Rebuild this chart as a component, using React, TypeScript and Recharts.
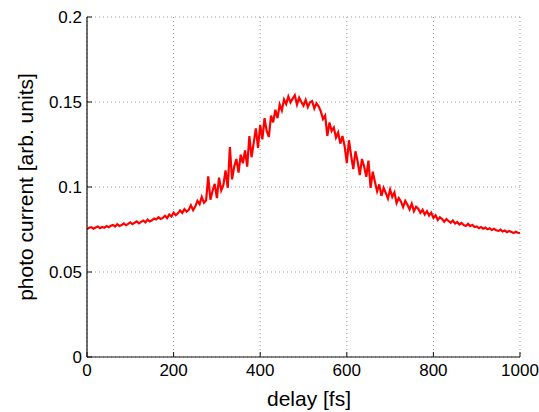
import React from "react";
import { LineChart, Line, XAxis, YAxis, CartesianGrid } from "recharts";

const xTicks = [0, 200, 400, 600, 800, 1000];
const yTicks = [0, 0.05, 0.1, 0.15, 0.2];
const delayStep = 5;

// photo current [arb. units], sampled every 5 fs from 0 to 1000 fs
const photoCurrent = [
  0.0752, 0.0760, 0.0764, 0.0755, 0.0762, 0.0768, 0.0758, 0.0765, 0.0760, 0.0770,
  0.0763, 0.0772, 0.0777, 0.0767, 0.0781, 0.0771, 0.0776, 0.0786, 0.0775, 0.0783,
  0.0792, 0.0781, 0.0790, 0.0798, 0.0786, 0.0795, 0.0803, 0.0792, 0.0808, 0.0797,
  0.0804, 0.0815, 0.0809, 0.0822, 0.0812, 0.0818, 0.0831, 0.0817, 0.0838, 0.0826,
  0.0849, 0.0834, 0.0845, 0.0862, 0.0848, 0.0870, 0.0855, 0.0866, 0.0892, 0.0864,
  0.0885, 0.0918, 0.0899, 0.0942, 0.0908, 0.0921, 0.1062, 0.0925, 0.0978, 0.1018,
  0.0935, 0.1055, 0.0980, 0.1012, 0.1098, 0.0995, 0.1235, 0.1045, 0.1120, 0.1165,
  0.1085, 0.1190, 0.1140, 0.1215, 0.1120, 0.1300, 0.1175, 0.1260, 0.1345, 0.1230,
  0.1365, 0.1280, 0.1405, 0.1330, 0.1295, 0.1420, 0.1380, 0.1455, 0.1405, 0.1485,
  0.1450, 0.1515, 0.1488, 0.1532, 0.1498, 0.1520, 0.1540, 0.1485, 0.1525, 0.1500,
  0.1478, 0.1512, 0.1470, 0.1498, 0.1505, 0.1462, 0.1492, 0.1475, 0.1445, 0.1400,
  0.1420, 0.1300, 0.1380, 0.1330, 0.1350, 0.1290, 0.1320, 0.1255, 0.1300, 0.1240,
  0.1140, 0.1275, 0.1185, 0.1105, 0.1210, 0.1150, 0.1070, 0.1165, 0.1120, 0.1060,
  0.1155, 0.0995, 0.1090, 0.1030, 0.0975, 0.1015, 0.0948, 0.0995, 0.0965, 0.0932,
  0.0985, 0.0942, 0.0968, 0.0905, 0.0935, 0.0915, 0.0882, 0.0918, 0.0896, 0.0868,
  0.0902, 0.0858, 0.0884, 0.0872, 0.0848, 0.0866, 0.0838, 0.0858, 0.0832, 0.0849,
  0.0818, 0.0834, 0.0806, 0.0822, 0.0812, 0.0796, 0.0811, 0.0800, 0.0790, 0.0803,
  0.0785, 0.0794, 0.0779, 0.0788, 0.0776, 0.0771, 0.0783, 0.0770, 0.0777, 0.0765,
  0.0768, 0.0758, 0.0764, 0.0755, 0.0761, 0.0751, 0.0757, 0.0747, 0.0754, 0.0745,
  0.0742, 0.0749, 0.0738, 0.0744, 0.0734, 0.0741, 0.0736, 0.0729, 0.0737, 0.0731,
  0.0728,
];

const data = photoCurrent.map((v, i) => ({ delay: i * delayStep, current: v }));

const FONT = '"Liberation Sans", Arial, Helvetica, sans-serif';
const TICK_LEN = 5;
const AXIS_COLOR = "#111";

const BottomTick = (props: any) => {
  const { x, y, payload } = props;
  return (
    <g>
      <line x1={x} y1={y} x2={x} y2={y - TICK_LEN} stroke={AXIS_COLOR} strokeWidth={1} />
      <text x={x} y={y + 19} textAnchor="middle" fontSize={17} fontFamily={FONT} fill="#000">
        {payload.value}
      </text>
    </g>
  );
};

const LeftTick = (props: any) => {
  const { x, y, payload } = props;
  return (
    <g>
      <line x1={x} y1={y} x2={x + TICK_LEN} y2={y} stroke={AXIS_COLOR} strokeWidth={1} />
      <text x={x - 5} y={y + 6} textAnchor="end" fontSize={17} fontFamily={FONT} fill="#000">
        {payload.value}
      </text>
    </g>
  );
};

const TopTick = (props: any) => {
  const { x, y } = props;
  return <line x1={x} y1={y} x2={x} y2={y + TICK_LEN} stroke={AXIS_COLOR} strokeWidth={1} />;
};

const RightTick = (props: any) => {
  const { x, y } = props;
  return <line x1={x} y1={y} x2={x - TICK_LEN} y2={y} stroke={AXIS_COLOR} strokeWidth={1} />;
};

export default function App() {
  return (
    <div style={{ position: "absolute", left: 0, top: 0, width: 539, height: 412, background: "#fff" }}>
      <LineChart
        width={539}
        height={412}
        data={data}
        margin={{ top: 17, right: 19, bottom: 0, left: 0 }}
      >
        <CartesianGrid
          stroke="#9a9a9a"
          strokeDasharray="1 3"
          horizontalValues={yTicks}
          verticalValues={xTicks}
        />
        <XAxis
          dataKey="delay"
          type="number"
          domain={[0, 1000]}
          ticks={xTicks}
          height={55}
          tickSize={0}
          tickMargin={0}
          tickLine={false}
          axisLine={{ stroke: AXIS_COLOR, strokeWidth: 1.2 }}
          tick={<BottomTick />}
          interval={0}
          allowDataOverflow
          label={{
            content: () => (
              <text x={309} y={406} textAnchor="middle" fontSize={21} fontFamily={FONT} fill="#000">
                delay [fs]
              </text>
            ),
          }}
        />
        <XAxis
          xAxisId="top"
          orientation="top"
          type="number"
          domain={[0, 1000]}
          ticks={xTicks}
          height={0}
          tickSize={0}
          tickMargin={0}
          tickLine={false}
          axisLine={{ stroke: "#444", strokeWidth: 1 }}
          tick={<TopTick />}
          interval={0}
        />
        <YAxis
          type="number"
          domain={[0, 0.2]}
          ticks={yTicks}
          width={87}
          tickSize={0}
          tickMargin={0}
          tickLine={false}
          axisLine={{ stroke: AXIS_COLOR, strokeWidth: 1.2 }}
          tick={<LeftTick />}
          interval={0}
          allowDataOverflow
          label={{
            content: () => (
              <text
                x={33}
                y={187}
                transform="rotate(-90, 33, 187)"
                textAnchor="middle"
                fontSize={21}
                fontFamily={FONT}
                fill="#000"
              >
                photo current [arb. units]
              </text>
            ),
          }}
        />
        <YAxis
          yAxisId="right"
          orientation="right"
          type="number"
          domain={[0, 0.2]}
          ticks={yTicks}
          width={0}
          tickSize={0}
          tickMargin={0}
          tickLine={false}
          axisLine={{ stroke: "#444", strokeWidth: 1 }}
          tick={<RightTick />}
          interval={0}
        />
        <Line
          type="linear"
          dataKey="current"
          stroke="#ff0000"
          strokeWidth={2.2}
          dot={false}
          isAnimationActive={false}
        />
      </LineChart>
    </div>
  );
}
